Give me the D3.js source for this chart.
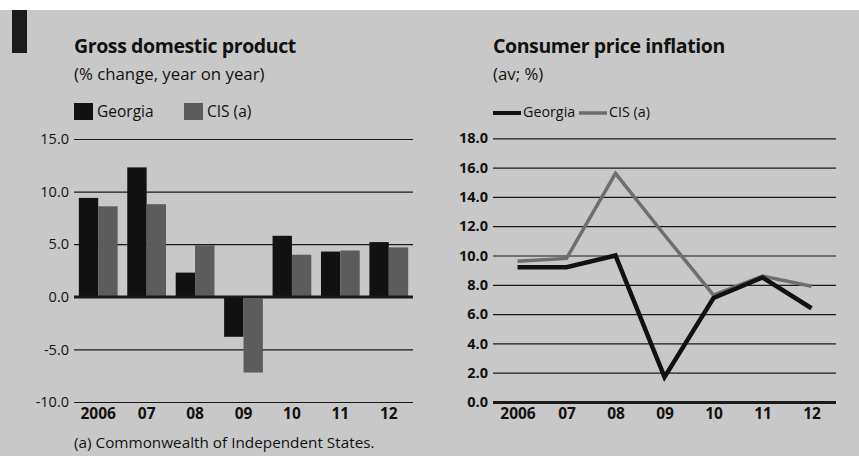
<!DOCTYPE html>
<html>
<head>
<meta charset="utf-8">
<script src="https://cdn.jsdelivr.net/npm/d3@7"></script>
<style>
  body{ margin:0; background:#fff; }
  svg{ display:block; font-family:"Open Sans", Lato, sans-serif; }
</style>
</head>
<body>
<svg id="chart" width="859" height="456"></svg>
<script>
// Data.
var years = [ '2006', '07', '08', '09', '10', '11', '12' ];
var series = [ 'Georgia', 'CIS (a)' ];

var gdp_georgia = [ 9.4, 12.3, 2.3, -3.8, 5.8, 4.3, 5.2 ];
var gdp_cis = [ 8.6, 8.8, 4.9, -7.2, 4.0, 4.4, 4.7 ];
var gdp_ticks = [ 15, 10, 5, 0, -5, -10 ];

var cpi_georgia = [ 9.2, 9.2, 10.0, 1.7, 7.1, 8.5, 6.4 ];
var cpi_cis = [ 9.6, 9.8, 15.6, 11.4, 7.3, 8.6, 7.9 ];
var cpi_ticks = [ 0, 2, 4, 6, 8, 10, 12, 14, 16, 18 ];

var colors = { georgia: '#111111', cis: '#5c5c5c', cis_line: '#6e6e6e', bg: '#c8c8c8', grid: '#1a1a1a' };
var font = '"Open Sans", sans-serif';

// Plain hyphen for negatives, one decimal.
function fmt( d ){ return d.toFixed( 1 ); }

var svg = d3.select( '#chart' );

// Background panel and corner tag.
svg.append( 'rect' )
  .attr( 'x', 0 ).attr( 'y', 10 )
  .attr( 'width', 859 ).attr( 'height', 446 )
  .style( 'fill', colors.bg );
svg.append( 'rect' )
  .attr( 'x', 12 ).attr( 'y', 10 )
  .attr( 'width', 15 ).attr( 'height', 43 )
  .style( 'fill', '#1c1c1c' );

// Helper for title and subtitle.
function header( g, x, title, subtitle ){
  g.append( 'text' )
    .attr( 'x', x ).attr( 'y', 53 )
    .style( 'font-size', '19.5px' ).style( 'font-weight', 'bold' )
    .style( 'letter-spacing', '-0.4px' )
    .style( 'fill', '#111' )
    .text( title );
  g.append( 'text' )
    .attr( 'x', x ).attr( 'y', 80 )
    .style( 'font-size', '16.8px' )
    .style( 'fill', '#111' )
    .text( subtitle );
}

// ---------- Left: GDP bar chart ----------
var left = svg.append( 'g' );
header( left, 74, 'Gross domestic product', '(% change, year on year)' );

var x0 = d3.scaleBand().domain( years ).range( [74, 413] ).paddingInner( 0.2 ).paddingOuter( 0.1 );
var x1 = d3.scaleBand().domain( series ).range( [0, x0.bandwidth()] );
var y_gdp = d3.scaleLinear().domain( [-10, 15] ).range( [402, 139] );

// Legend
var gdp_legend = [ { name: series[0], color: colors.georgia, x: 74 }, { name: series[1], color: colors.cis, x: 184 } ];
gdp_legend.forEach( function( d ){
  left.append( 'rect' ).attr( 'x', d.x ).attr( 'y', 103 ).attr( 'width', 19 ).attr( 'height', 17 ).style( 'fill', d.color );
  left.append( 'text' ).attr( 'x', d.x + 23 ).attr( 'y', 117 ).style( 'font-size', '15.5px' ).style( 'fill', '#111' ).text( d.name );
});

// Gridlines and y labels
left.append( 'g' )
  .attr( 'transform', 'translate(74,0)' )
  .call( d3.axisLeft( y_gdp ).tickValues( gdp_ticks ).tickSize( -339 ).tickPadding( 4 ).tickFormat( fmt ) )
  .call( function( g ){
    g.select( '.domain' ).remove();
    g.selectAll( 'line' ).attr( 'stroke', colors.grid ).attr( 'stroke-width', function( d ){ return d === 0 ? 2.5 : 1.2; } );
    g.selectAll( 'text' ).attr( 'x', -5 ).style( 'font-size', '14.5px' ).style( 'font-family', font ).style( 'fill', '#111' );
  });

// Bars
var gdp_rows = years.map( function( y, i ){ return { year: y, values: [ gdp_georgia[i], gdp_cis[i] ] }; } );
left.selectAll( 'g.group' )
  .data( gdp_rows )
  .enter()
  .append( 'g' )
    .attr( 'class', 'group' )
    .attr( 'transform', function( d ){ return 'translate(' + x0( d.year ) + ',0)'; } )
  .selectAll( 'rect' )
  .data( function( d ){ return d.values.map( function( v, i ){ return { key: series[i], value: v }; } ); } )
  .enter()
  .append( 'rect' )
    .attr( 'x', function( d ){ return x1( d.key ); } )
    .attr( 'y', function( d ){ return y_gdp( Math.max( 0, d.value ) ); } )
    .attr( 'width', x1.bandwidth() )
    .attr( 'height', function( d ){ return Math.abs( y_gdp( d.value ) - y_gdp( 0 ) ); } )
    .style( 'fill', function( d ){ return d.key === series[0] ? colors.georgia : colors.cis; } );

// Redraw zero line on top of bars
left.append( 'line' )
  .attr( 'x1', 74 ).attr( 'x2', 413 )
  .attr( 'y1', y_gdp( 0 ) ).attr( 'y2', y_gdp( 0 ) )
  .attr( 'stroke', colors.grid ).attr( 'stroke-width', 2.5 );

// X labels
left.append( 'g' )
  .attr( 'transform', 'translate(0,' + 402 + ')' )
  .call( d3.axisBottom( x0 ).tickSize( 0 ).tickPadding( 6 ) )
  .call( function( g ){
    g.select( '.domain' ).remove();
    g.selectAll( 'text' ).style( 'font-size', '15.5px' ).style( 'font-weight', 'bold' ).style( 'font-family', font ).style( 'fill', '#111' );
  });

left.append( 'text' )
  .attr( 'x', 74 ).attr( 'y', 448 )
  .style( 'font-size', '15.3px' ).style( 'fill', '#111' )
  .text( '(a) Commonwealth of Independent States.' );

// ---------- Right: CPI line chart ----------
var right = svg.append( 'g' );
header( right, 493, 'Consumer price inflation', '(av; %)' );

var x_cpi = d3.scalePoint().domain( years ).range( [493, 836] ).padding( 0.5 );
var y_cpi = d3.scaleLinear().domain( [0, 18] ).range( [402, 138.3] );

var cpi_legend = [ { name: series[0], color: colors.georgia, x: 493, w: 4 }, { name: series[1], color: colors.cis_line, x: 579, w: 3.5 } ];
cpi_legend.forEach( function( d ){
  right.append( 'line' ).attr( 'x1', d.x ).attr( 'x2', d.x + 28 ).attr( 'y1', 113 ).attr( 'y2', 113 ).attr( 'stroke', d.color ).attr( 'stroke-width', d.w );
  right.append( 'text' ).attr( 'x', d.x + 30 ).attr( 'y', 117 ).style( 'font-size', '14.3px' ).style( 'fill', '#111' ).text( d.name );
});

right.append( 'g' )
  .attr( 'transform', 'translate(493,0)' )
  .call( d3.axisLeft( y_cpi ).tickValues( cpi_ticks ).tickSize( -343 ).tickPadding( 4 ).tickFormat( fmt ) )
  .call( function( g ){
    g.select( '.domain' ).remove();
    g.selectAll( 'line' ).attr( 'stroke', colors.grid ).attr( 'stroke-width', function( d ){ return d === 0 ? 3 : 1.2; } );
    g.selectAll( 'text' ).attr( 'x', -5 ).style( 'font-size', '14.5px' ).style( 'font-weight', 'bold' ).style( 'font-family', font ).style( 'fill', '#111' );
  });

var line = d3.line()
  .x( function( d, i ){ return x_cpi( years[i] ); } )
  .y( function( d ){ return y_cpi( d ); } );

right.append( 'path' )
  .datum( cpi_cis )
  .attr( 'd', line )
  .attr( 'fill', 'none' ).attr( 'stroke', colors.cis_line ).attr( 'stroke-width', 3.5 );

right.append( 'path' )
  .datum( cpi_georgia )
  .attr( 'd', line )
  .attr( 'fill', 'none' ).attr( 'stroke', colors.georgia ).attr( 'stroke-width', 4.5 );

right.append( 'g' )
  .attr( 'transform', 'translate(0,' + 402 + ')' )
  .call( d3.axisBottom( x_cpi ).tickSize( 0 ).tickPadding( 6 ) )
  .call( function( g ){
    g.select( '.domain' ).remove();
    g.selectAll( 'text' ).style( 'font-size', '15.5px' ).style( 'font-weight', 'bold' ).style( 'font-family', font ).style( 'fill', '#111' );
  });
</script>
</body>
</html>
